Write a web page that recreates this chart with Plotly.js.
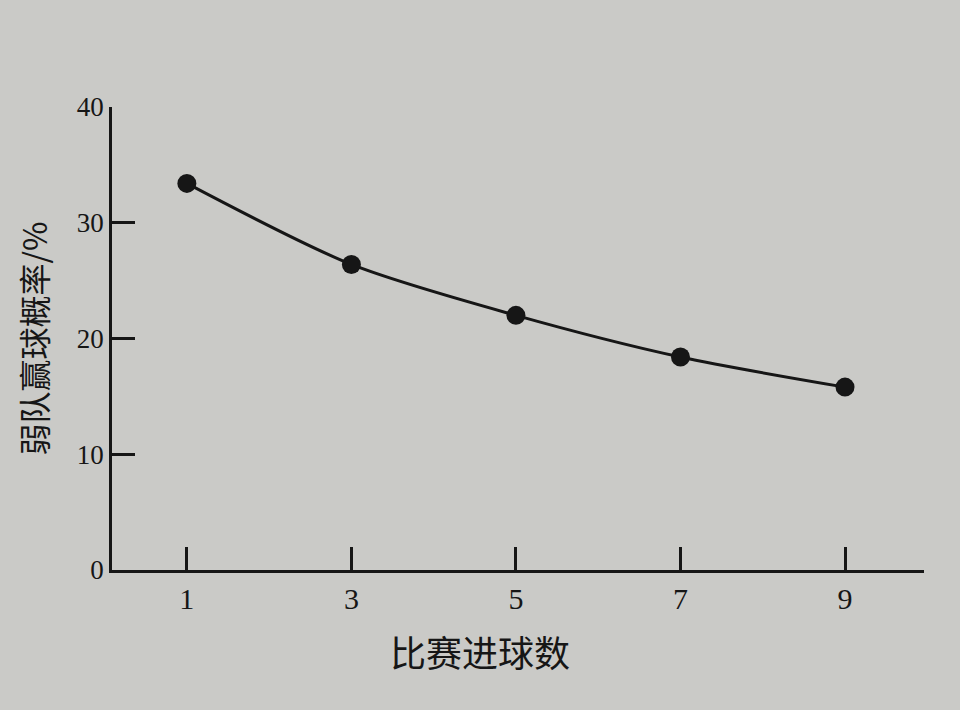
<!DOCTYPE html>
<html>
<head>
<meta charset="utf-8">
<script src="https://cdn.plot.ly/plotly-3.0.1.min.js"></script>
<style>
  html, body { margin: 0; padding: 0; background: #cacac7; }
  #chart { width: 960px; height: 710px; }
</style>
</head>
<body>
<div id="chart"></div>
<script>
// goals scored in the match vs. probability the weaker team wins
var goals = [1, 3, 5, 7, 9];
var win_pct = [33.4, 26.4, 22.0, 18.4, 15.8];
var y_ticks = [0, 10, 20, 30, 40];
var x_title = '比赛进球数';
var y_title = '弱队赢球概率/%';

var paper = '#cacac7';
var ink = '#161616';

var trace = {
  x: goals,
  y: win_pct,
  type: 'scatter',
  mode: 'lines+markers',
  line: {color: ink, width: 3, shape: 'spline', smoothing: 0.8},
  marker: {color: ink, size: 19},
  hoverinfo: 'x+y'
};

var layout = {
  width: 960,
  height: 710,
  showlegend: false,
  paper_bgcolor: paper,
  plot_bgcolor: paper,
  margin: {l: 112, r: 36, t: 107, b: 140},
  xaxis: {
    range: [0.09, 9.96],
    tickvals: goals,
    ticktext: goals.map(String),
    ticks: 'inside',
    ticklen: 23,
    tickwidth: 2.5,
    tickcolor: ink,
    showline: true,
    linecolor: ink,
    linewidth: 2.5,
    showgrid: false,
    zeroline: false,
    tickfont: {family: 'Liberation Serif, serif', size: 30, color: ink}
  },
  yaxis: {
    range: [0, 40],
    tickvals: y_ticks,
    ticktext: y_ticks.map(String),
    ticks: 'inside',
    ticklen: 23,
    tickwidth: 2.5,
    tickcolor: ink,
    showline: true,
    linecolor: ink,
    linewidth: 2.5,
    showgrid: false,
    zeroline: false,
    tickfont: {family: 'Liberation Serif, serif', size: 27, color: ink},
    title: {
      text: y_title,
      font: {family: 'Noto Sans CJK SC, sans-serif', size: 32, color: ink},
      standoff: 20
    }
  },
  // the printed x title sits left of the plot centre, so place it by hand
  annotations: [{
    text: x_title,
    xref: 'paper', yref: 'paper',
    x: 0.453, y: -0.175,
    xanchor: 'center', yanchor: 'middle',
    showarrow: false,
    font: {family: 'Noto Sans CJK SC, sans-serif', size: 36, color: ink}
  }]
};

Plotly.newPlot('chart', [trace], layout, {displaylogo: false, displayModeBar: false});
</script>
</body>
</html>
